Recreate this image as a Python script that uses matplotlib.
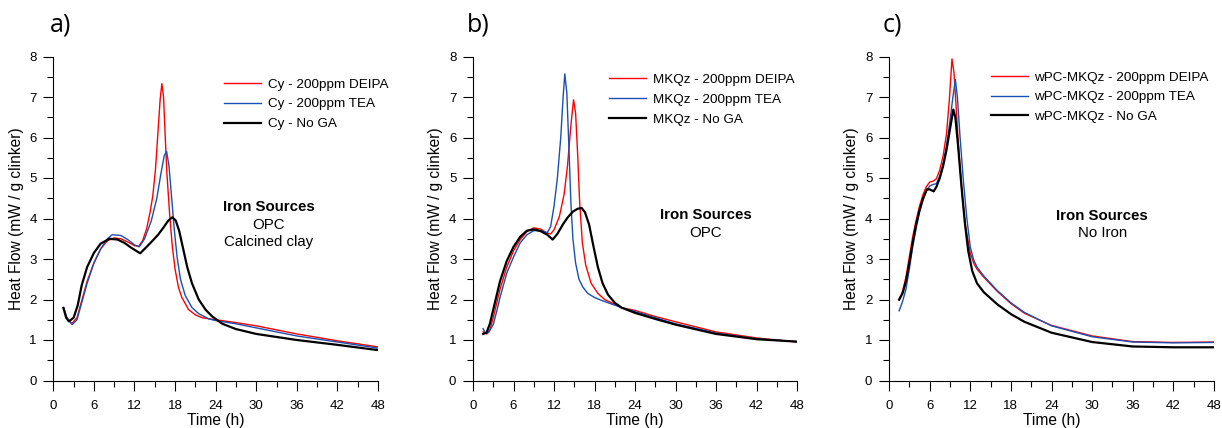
import matplotlib
matplotlib.use("Agg")
import matplotlib.pyplot as plt
from matplotlib.ticker import MultipleLocator

plt.rcParams['font.family'] = ['Liberation Sans', 'DejaVu Sans']

# ---------------- data ----------------
# Panel a) Cy
a_red_t = [1.5, 2.0, 2.7, 3.5, 4.0, 5.0, 6.0, 7.0, 8.0, 9.0, 10.0, 11.0, 12.0, 12.6, 13.2, 13.8, 14.3, 14.7, 15.1, 15.5, 15.8, 16.05, 16.3, 16.55, 16.8, 17.2, 17.6, 18.0, 18.5, 19.0, 20.0, 21.0, 22.0, 24.0, 27.0, 30.0, 36.0, 42.0, 48.0]
a_red_y = [1.80, 1.55, 1.40, 1.55, 1.85, 2.45, 2.90, 3.25, 3.45, 3.52, 3.50, 3.42, 3.33, 3.31, 3.45, 3.75, 4.15, 4.55, 5.20, 6.20, 6.95, 7.33, 7.00, 6.00, 5.10, 4.10, 3.30, 2.75, 2.30, 2.05, 1.75, 1.62, 1.55, 1.50, 1.43, 1.35, 1.15, 0.98, 0.83]
a_blue_t = [1.5, 2.0, 2.8, 3.5, 4.0, 5.0, 6.0, 7.0, 8.0, 8.7, 10.0, 11.0, 12.0, 12.7, 13.5, 14.5, 15.3, 15.9, 16.4, 16.75, 17.1, 17.5, 17.9, 18.3, 18.8, 19.5, 20.5, 21.5, 23.0, 24.0, 27.0, 30.0, 36.0, 42.0, 48.0]
a_blue_y = [1.80, 1.55, 1.38, 1.50, 1.80, 2.40, 2.90, 3.25, 3.50, 3.60, 3.58, 3.48, 3.35, 3.30, 3.50, 3.95, 4.50, 5.10, 5.55, 5.66, 5.30, 4.50, 3.70, 3.05, 2.50, 2.10, 1.80, 1.65, 1.52, 1.48, 1.40, 1.30, 1.10, 0.95, 0.80]
a_blk_t = [1.5, 1.9, 2.3, 3.0, 3.6, 4.2, 5.0, 6.0, 7.0, 8.3, 9.5, 10.5, 11.5, 12.85, 13.5, 14.5, 15.5, 16.3, 17.0, 17.6, 18.1, 18.6, 19.2, 19.8, 20.5, 21.5, 22.5, 23.5, 25.0, 27.0, 30.0, 36.0, 42.0, 48.0]
a_blk_y = [1.79, 1.55, 1.46, 1.55, 1.85, 2.35, 2.80, 3.15, 3.38, 3.50, 3.48, 3.40, 3.28, 3.14, 3.25, 3.42, 3.60, 3.78, 3.95, 4.03, 3.95, 3.70, 3.25, 2.80, 2.40, 2.00, 1.75, 1.58, 1.40, 1.27, 1.15, 1.00, 0.88, 0.75]

# Panel b) MKQz
b_red_t = [1.5, 2.0, 2.5, 3.0, 4.0, 5.0, 6.0, 7.0, 8.0, 9.0, 10.0, 11.0, 11.5, 12.0, 12.8, 13.5, 14.0, 14.5, 14.9, 15.2, 15.5, 15.8, 16.2, 16.7, 17.5, 18.5, 19.5, 21.0, 22.0, 24.0, 27.0, 30.0, 36.0, 42.0, 48.0]
b_red_y = [1.20, 1.15, 1.25, 1.55, 2.25, 2.80, 3.20, 3.48, 3.68, 3.77, 3.74, 3.64, 3.62, 3.72, 4.05, 4.60, 5.30, 6.30, 6.93, 6.60, 5.60, 4.40, 3.40, 2.85, 2.40, 2.15, 2.00, 1.88, 1.80, 1.73, 1.58, 1.45, 1.20, 1.05, 0.95]
b_blue_t = [1.5, 1.8, 2.3, 3.0, 3.5, 4.0, 5.0, 6.0, 7.0, 8.0, 9.0, 10.0, 11.0, 11.5, 12.0, 12.5, 13.0, 13.35, 13.6, 13.9, 14.2, 14.5, 14.8, 15.2, 15.7, 16.3, 17.0, 18.0, 19.0, 20.0, 21.0, 22.0, 24.0, 27.0, 30.0, 36.0, 42.0, 48.0]
b_blue_y = [1.28, 1.18, 1.18, 1.38, 1.70, 2.05, 2.65, 3.05, 3.40, 3.60, 3.70, 3.70, 3.65, 3.80, 4.30, 5.00, 6.00, 7.00, 7.57, 7.10, 5.80, 4.40, 3.50, 2.90, 2.50, 2.30, 2.15, 2.05, 1.98, 1.92, 1.86, 1.80, 1.70, 1.55, 1.40, 1.17, 1.03, 0.96]
b_blk_t = [1.5, 2.0, 2.5, 3.0, 4.0, 5.0, 6.0, 7.0, 8.0, 9.0, 10.0, 11.0, 11.8, 12.5, 13.3, 14.0, 14.8, 15.5, 16.1, 16.6, 17.2, 17.8, 18.5, 19.2, 20.0, 21.0, 22.0, 24.0, 27.0, 30.0, 36.0, 42.0, 48.0]
b_blk_y = [1.15, 1.18, 1.40, 1.75, 2.45, 2.95, 3.30, 3.55, 3.70, 3.73, 3.69, 3.60, 3.48, 3.62, 3.85, 4.02, 4.17, 4.24, 4.26, 4.15, 3.85, 3.35, 2.80, 2.40, 2.12, 1.92, 1.80, 1.67, 1.52, 1.38, 1.15, 1.02, 0.96]

# Panel c) wPC-MKQz
c_red_t = [1.5, 2.0, 2.5, 3.0, 3.5, 4.0, 4.5, 5.0, 5.5, 6.0, 6.5, 7.0, 7.5, 8.0, 8.5, 8.9, 9.3, 9.6, 9.9, 10.3, 10.8, 11.3, 12.0, 12.5, 13.0, 14.0, 16.0, 18.0, 20.0, 24.0, 30.0, 36.0, 42.0, 48.0]
c_red_y = [1.98, 2.20, 2.55, 3.05, 3.55, 3.95, 4.30, 4.58, 4.78, 4.90, 4.92, 4.98, 5.20, 5.55, 6.10, 6.90, 7.94, 7.60, 6.80, 5.70, 4.60, 3.80, 3.15, 2.90, 2.75, 2.55, 2.20, 1.90, 1.66, 1.36, 1.10, 0.96, 0.94, 0.95]
c_blue_t = [1.5, 2.0, 2.5, 3.0, 3.5, 4.0, 4.5, 5.0, 5.5, 6.0, 6.5, 7.0, 7.5, 8.0, 8.5, 9.0, 9.4, 9.8, 10.1, 10.5, 11.0, 11.5, 12.0, 12.5, 13.0, 14.0, 16.0, 18.0, 20.0, 24.0, 30.0, 36.0, 42.0, 48.0]
c_blue_y = [1.72, 1.95, 2.25, 2.75, 3.30, 3.75, 4.15, 4.45, 4.68, 4.80, 4.84, 4.86, 5.05, 5.35, 5.80, 6.40, 6.95, 7.43, 7.00, 6.00, 4.90, 4.00, 3.30, 2.98, 2.80, 2.58, 2.22, 1.92, 1.68, 1.35, 1.08, 0.95, 0.93, 0.94]
c_blk_t = [1.5, 2.0, 2.5, 3.0, 3.5, 4.0, 4.5, 5.0, 5.6, 6.0, 6.6, 7.0, 7.5, 8.0, 8.5, 9.0, 9.5, 9.8, 10.2, 10.7, 11.2, 11.7, 12.3, 13.0, 14.0, 16.0, 18.0, 20.0, 24.0, 30.0, 36.0, 42.0, 48.0]
c_blk_y = [2.00, 2.15, 2.45, 2.90, 3.40, 3.85, 4.20, 4.48, 4.72, 4.72, 4.67, 4.78, 5.00, 5.30, 5.70, 6.20, 6.69, 6.50, 5.80, 4.80, 3.90, 3.20, 2.70, 2.40, 2.18, 1.88, 1.64, 1.45, 1.18, 0.95, 0.84, 0.82, 0.82]

panel_letters = ["a)", "b)", "c)"]
legend_prefixes = ["Cy", "MKQz", "wPC-MKQz"]
legend_suffixes = ["200ppm DEIPA", "200ppm TEA", "No GA"]
note_lines = [["OPC", "Calcined clay"], ["OPC"], ["No Iron"]]
note_title = "Iron Sources"

x_ticks = [0, 6, 12, 18, 24, 30, 36, 42, 48]
y_ticks = [0, 1, 2, 3, 4, 5, 6, 7, 8]

series = [
    [(a_red_t, a_red_y), (a_blue_t, a_blue_y), (a_blk_t, a_blk_y)],
    [(b_red_t, b_red_y), (b_blue_t, b_blue_y), (b_blk_t, b_blk_y)],
    [(c_red_t, c_red_y), (c_blue_t, c_blue_y), (c_blk_t, c_blk_y)],
]

# ---------------- layout / style ----------------
W, H = 1222, 428
fig = plt.figure(figsize=(W / 100, H / 100), dpi=100)

axes_px = [(53.3, 324.7), (473.0, 324.0), (889.0, 325.0)]  # left, width
ax_bottom_px, ax_top_px = 380.5, 56.5
letter_px = [50, 467, 883]
legend_anchor = [(0.525, 0.933), (0.421, 0.947), (0.313, 0.955)]
note_xy = [(31.8, 4.28), (34.5, 4.08), (31.5, 4.06)]

colors = ["#ff0000", "#1a4fb5", "#000000"]
widths = [1.0, 1.0, 1.6]

for i in range(3):
    left, width = axes_px[i]
    ax = fig.add_axes([left / W, 1 - ax_bottom_px / H, width / W, (ax_bottom_px - ax_top_px) / H])
    for (t, y), c, lw, suf in zip(series[i], colors, widths, legend_suffixes):
        ax.plot(t, y, color=c, lw=lw, label=f"{legend_prefixes[i]} - {suf}", solid_joinstyle='round')
    ax.set_xlim(0, 48)
    ax.set_ylim(0, 8)
    ax.set_xticks(x_ticks)
    ax.set_yticks(y_ticks)
    ax.xaxis.set_minor_locator(MultipleLocator(3))
    ax.yaxis.set_minor_locator(MultipleLocator(0.5))
    ax.tick_params(which='major', direction='out', length=7, width=0.8, labelsize=9.5)
    ax.tick_params(which='minor', direction='out', length=4, width=0.8)
    ax.tick_params(axis='x', which='major', pad=7)
    ax.tick_params(axis='y', which='major', pad=5)
    for s in ['top', 'right']:
        ax.spines[s].set_visible(False)
    ax.set_xlabel("Time (h)", fontsize=11.2, labelpad=1)
    ax.set_ylabel("Heat Flow (mW / g clinker)", fontsize=11.2, labelpad=4)

    leg = ax.legend(loc='upper left', bbox_to_anchor=legend_anchor[i], frameon=False,
                    fontsize=9.7, handlelength=2.75, handletextpad=0.5,
                    labelspacing=0.55, borderpad=0, borderaxespad=0)

    nx, ny = note_xy[i]
    ax.text(nx, ny, note_title, ha='center', va='center', fontsize=10.8, fontweight='bold')
    for k, line in enumerate(note_lines[i]):
        ax.text(nx, ny - 0.43 * (k + 1), line, ha='center', va='center', fontsize=10.8)

    fig.text(letter_px[i] / W, 1 - 25 / H, panel_letters[i], ha='left', va='center',
             fontsize=18, family=['Open Sans', 'DejaVu Sans'])

fig.savefig("out.png", dpi=100)
